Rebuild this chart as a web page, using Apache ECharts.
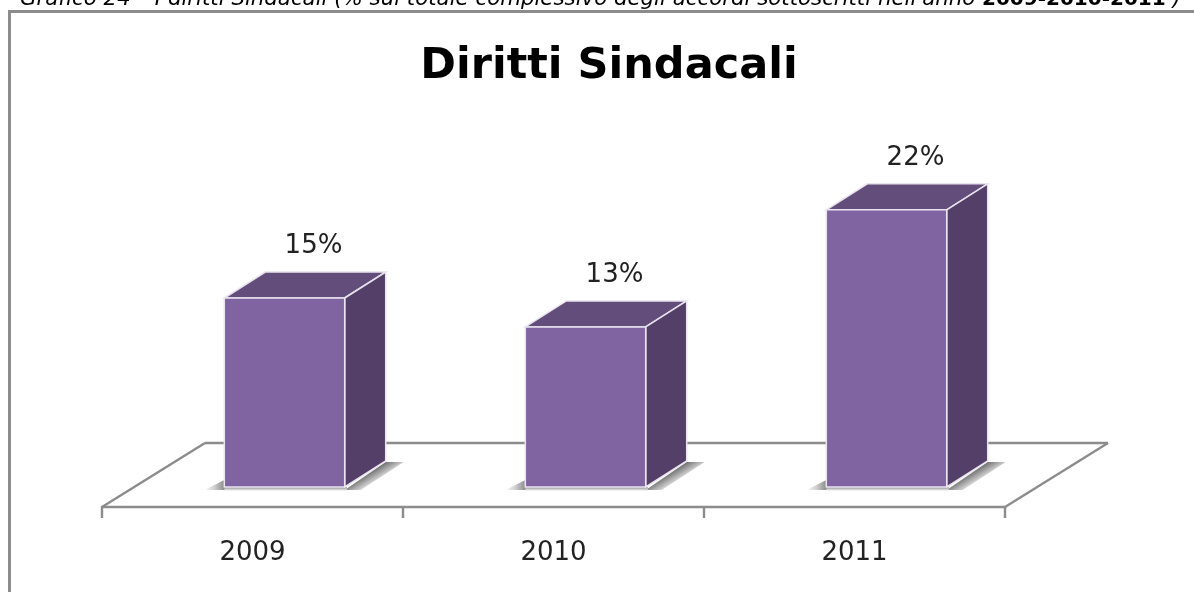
<!DOCTYPE html>
<html>
<head>
<meta charset="utf-8">
<style>html,body{margin:0;padding:0;background:#fff}#c{width:1194px;height:592px}</style>
<script src="https://cdn.jsdelivr.net/npm/echarts@6/dist/echarts.min.js"></script>
</head>
<body>
<div id="c"></div>
<script>
const categories = ['2009', '2010', '2011'];
const percentValues = [15, 12.7, 22];
const chartTitle = 'Diritti Sindacali';
const captionPlain = "Grafico 24 – I diritti Sindacali (% sul totale complessivo degli accordi sottoscritti nell'anno ";
const captionYears = '2009-2010-2011';
const captionEnd = ' )';

const FRONT = '#8064a2', TOP = '#634d7b', SIDE = '#533f68', EDGE = '#e9e4ef', AXIS = '#8c8c8c';
const gradAbs = (x0, y0, x1, y1, stops) => new echarts.graphic.LinearGradient(x0, y0, x1, y1,
  stops.map((c, i) => ({offset: i / (stops.length - 1), color: c})), true);

function renderFloor(params, api) {
  const g = params.coordSys;
  const dx = 103, dy = -64, bottom = g.y + g.height, left = g.x, right = g.x + g.width;
  const ln = (x1, y1, x2, y2) => ({type: 'line', shape: {x1, y1, x2, y2}, style: {stroke: AXIS, lineWidth: 2.4}, silent: true});
  return {type: 'group', children: [
    ln(left, bottom, left + dx, bottom + dy),
    ln(left + dx, bottom + dy, right + dx, bottom + dy),
    ln(right, bottom, right + dx, bottom + dy)
  ]};
}

function renderBox(params, api) {
  const base = api.coord([api.value(0), 0]);
  const top = api.coord([api.value(0), api.value(1)]);
  const w = api.size([1, 0])[0] * 0.4;
  const cx = base[0] + 32, l = cx - w / 2, r = cx + w / 2;
  const yb = base[1] - 20, yt = top[1] - 20;
  const dx = 41, dy = -26;
  const poly = (points, fill, stroke) => ({type: 'polygon', shape: {points},
    style: {fill, stroke: stroke || 'none', lineWidth: stroke ? 1.5 : 0}});
  const mx = r + dx / 2, my = yb + dy / 2;
  const soft = (shape) => { shape.style.shadowBlur = 5; shape.style.shadowColor = 'rgba(255,255,255,0.9)'; return shape; };
  return {type: 'group', children: [
    soft(poly([[r, yb + 3], [r + dx, yb + dy + 1], [r + dx + 18, yb + dy + 1], [r + 16, yb + 3]],
      gradAbs(mx, my, mx + 8, my + 13, ['#6a6a6a', '#b4b4b4', '#ffffff']))),
    soft(poly([[l - 20, yb + 3], [l, yb - 7], [l + 2, yb + 3]],
      gradAbs(l - 20, yb, l + 1, yb, ['#ffffff', '#cccccc', '#858585']))),
    poly([[l, yb], [r + 2, yb], [r + 2, yb + 4], [l, yb + 4]],
      gradAbs(l, yb, l, yb + 4, ['#8a8a8a', '#ffffff'])),
    poly([[l, yt], [l + dx, yt + dy], [r + dx, yt + dy], [r, yt]], TOP, EDGE),
    poly([[r, yt], [r + dx, yt + dy], [r + dx, yb + dy], [r, yb]], SIDE, EDGE),
    poly([[l, yt], [r, yt], [r, yb], [l, yb]], FRONT, EDGE),
    {type: 'text', x: cx + 29, y: yt - 52, style: {
      text: Math.round(api.value(1)) + '%', fill: '#222', align: 'center', verticalAlign: 'middle',
      font: '26px "DejaVu Sans"'}}
  ]};
}

const chart = echarts.init(document.getElementById('c'), null, {renderer: 'canvas'});
chart.setOption({
  animation: false,
  backgroundColor: '#fff',
  title: {text: chartTitle, left: 604, top: 40, textAlign: 'center',
    textStyle: {fontFamily: '"DejaVu Sans"', fontWeight: 700, fontSize: 43, color: '#000'}},
  grid: {left: 102, right: 189, top: 129, bottom: 85},
  xAxis: {type: 'category', data: categories, boundaryGap: true,
    axisLine: {lineStyle: {color: AXIS, width: 2.4}},
    axisTick: {show: true, length: 11, lineStyle: {color: AXIS, width: 2.4}},
    axisLabel: {margin: 33, fontFamily: '"DejaVu Sans"', fontSize: 26, color: '#222'}},
  yAxis: {type: 'value', min: 0, max: 30, show: false},
  graphic: [
    {type: 'rect', shape: {x: 9.5, y: 11.5, width: 1300, height: 800}, style: {fill: 'none', stroke: AXIS, lineWidth: 3}, silent: true},
    {type: 'text', x: 20, y: -11, silent: true, style: {
      text: '{a|' + captionPlain + '}{b|' + captionYears + '}{a|' + captionEnd + '}',
      rich: {
        a: {fontFamily: '"DejaVu Sans"', fontStyle: 'italic', fontSize: 21.3, fill: '#000'},
        b: {fontFamily: '"DejaVu Sans"', fontWeight: 'bold', fontSize: 20, fill: '#000'}
      }}}
  ],
  series: [
    {type: 'custom', renderItem: renderFloor, data: [[categories[0], 0]], encode: {x: 0, y: 1}, silent: true, z: 1, clip: false},
    {type: 'custom', renderItem: renderBox, data: categories.map((c, i) => [c, percentValues[i]]), encode: {x: 0, y: 1}, z: 2, clip: false}
  ]
});
</script>
</body>
</html>
